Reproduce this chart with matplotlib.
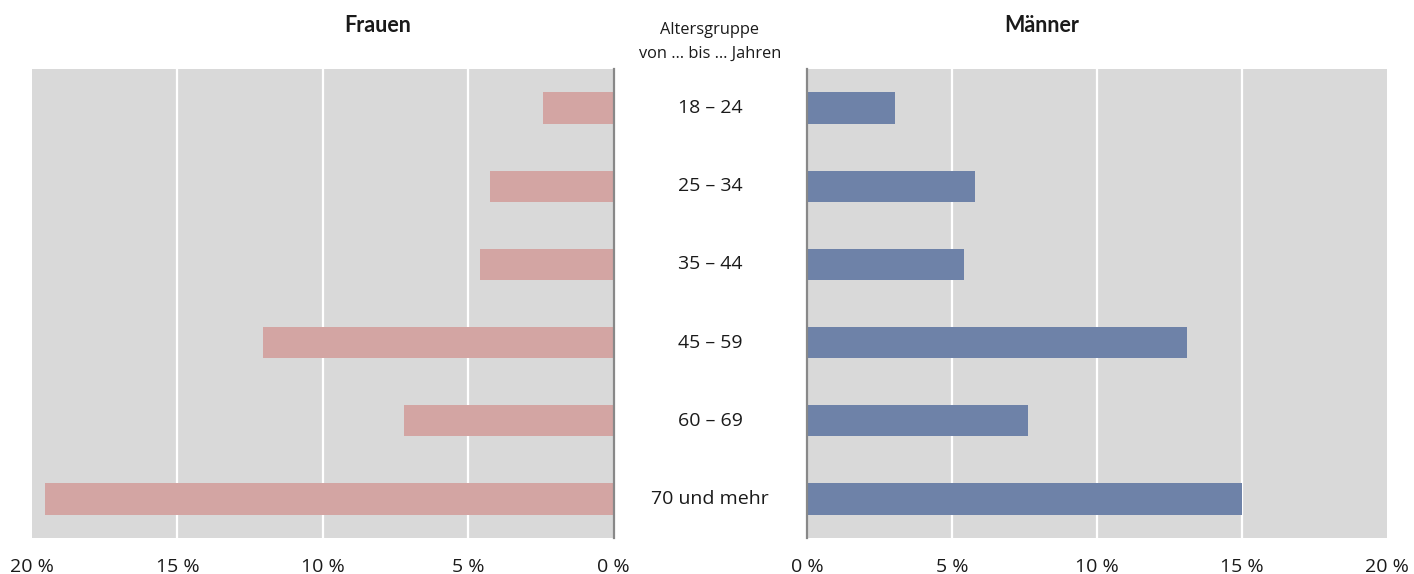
import matplotlib
matplotlib.use("Agg")
import matplotlib.pyplot as plt

categories = ["18 – 24", "25 – 34", "35 – 44", "45 – 59", "60 – 69", "70 und mehr"]
frauen = [2.43, 4.24, 4.58, 12.04, 7.21, 19.54]
maenner = [3.03, 5.79, 5.40, 13.11, 7.63, 15.0]
tick_vals = [0, 5, 10, 15, 20]
tick_labels = ["0 %", "5 %", "10 %", "15 %", "20 %"]

plt.rcParams['font.family'] = ['Open Sans', 'DejaVu Sans']

W, H = 1414, 574
fig = plt.figure(figsize=(W / 100, H / 100), dpi=100)

def ax_rect(x0, x1, y0, y1):
    return [x0 / W, 1 - y1 / H, (x1 - x0) / W, (y1 - y0) / H]

axL = fig.add_axes(ax_rect(32, 613.5, 69, 538))
axR = fig.add_axes(ax_rect(807, 1387, 69, 538))

bg = "#D9D9D9"
pos = list(range(len(categories)))

for ax, vals, col in [(axL, frauen, "#D3A5A3"), (axR, maenner, "#6E82A8")]:
    ax.set_facecolor(bg)
    ax.barh(pos, vals, height=0.4, color=col, zorder=3)
    ax.set_xlim(0, 20)
    ax.set_ylim(len(categories) - 0.5, -0.5)
    ax.set_xticks(tick_vals)
    ax.set_xticklabels(tick_labels, fontsize=14, color="#1a1a1a")
    ax.set_yticks([])
    ax.tick_params(axis="x", length=0, pad=14.5)
    for v in tick_vals[1:-1]:
        ax.axvline(v, color="white", lw=1.6, zorder=1)
    for s in ax.spines.values():
        s.set_visible(False)

axL.invert_xaxis()
axL.spines["right"].set_visible(True)
axL.spines["right"].set_color("#888888")
axL.spines["right"].set_linewidth(1.6)
axL.spines["right"].set_zorder(4)
axR.spines["left"].set_visible(True)
axR.spines["left"].set_color("#888888")
axR.spines["left"].set_linewidth(1.6)
axR.spines["left"].set_zorder(4)

# category labels in the middle
for i, c in enumerate(categories):
    y = axL.transData.transform((0, i))[1]
    fig.text(710 / W, y / H, c, ha="center", va="center", fontsize=14, color="#1a1a1a")

fig.text(378 / W, 1 - 25 / H, "Frauen", ha="center", va="center", fontsize=15.5, fontweight="bold",
         family=["Lato", "DejaVu Sans"], color="#1a1a1a")
fig.text(1042 / W, 1 - 25 / H, "Männer", ha="center", va="center", fontsize=15.5, fontweight="bold",
         family=["Lato", "DejaVu Sans"], color="#1a1a1a")
fig.text(710 / W, 1 - 30 / H, "Altersgruppe", ha="center", va="center", fontsize=11.8, color="#1a1a1a")
fig.text(710 / W, 1 - 54 / H, "von … bis … Jahren", ha="center", va="center", fontsize=11.8, color="#1a1a1a")

fig.savefig("out.png", dpi=100, facecolor="white")
